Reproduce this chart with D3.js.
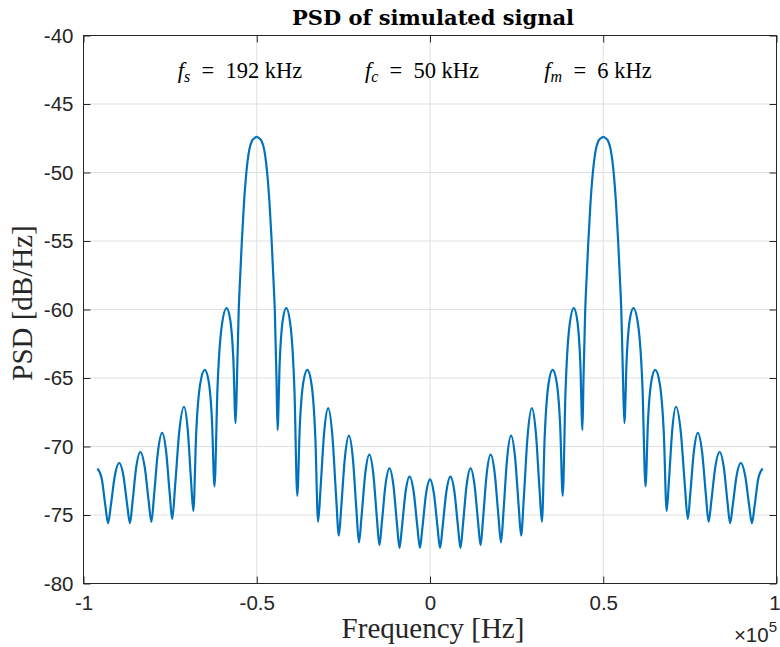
<!DOCTYPE html>
<html>
<head>
<meta charset="utf-8">
<script src="https://cdn.jsdelivr.net/npm/d3@7/dist/d3.min.js"></script>
<style>
  html, body { margin: 0; padding: 0; background: #ffffff; }
  svg { display: block; }
</style>
</head>
<body>
<svg id="chart" width="780" height="647"></svg>
<script>
// ---------- data ----------
const freqKHz = [
  -96.0, -94.76, -93.68, -92.9, -92.1, -90.98, -89.7, -88.46, -87.38, -86.6,
  -85.85, -84.8, -83.6, -82.32, -81.2, -80.4, -79.63, -78.54, -77.3, -76.14,
  -75.13, -74.4, -73.55, -72.36, -71.0, -69.92, -68.98, -68.3, -67.48, -66.32,
  -65.0, -63.88, -62.9, -62.2, -61.33, -60.1, -58.7, -57.66, -56.75, -56.1,
  -55.7, -55.2, -54.8, -54.3, -53.7, -53.0, -52.2, -51.4, -50.7, -50.0,
  -49.3, -48.6, -47.8, -47.0, -46.3, -45.7, -45.2, -44.8, -44.3, -44.0,
  -43.38, -42.5, -41.5, -40.22, -39.1, -38.3, -37.58, -36.56, -35.4, -34.16,
  -33.08, -32.3, -31.58, -30.56, -29.4, -28.16, -27.08, -26.3, -25.58, -24.56,
  -23.4, -22.24, -21.23, -20.5, -19.75, -18.7, -17.5, -16.34, -15.33, -14.6,
  -13.88, -12.86, -11.7, -10.54, -9.53, -8.8, -8.08, -7.06, -5.9, -4.7,
  -3.65, -2.9, -2.18, -1.16, 0.0, 1.16, 2.18, 2.9, 3.65, 4.7,
  5.9, 7.06, 8.08, 8.8, 9.53, 10.54, 11.7, 12.86, 13.88, 14.6,
  15.33, 16.34, 17.5, 18.7, 19.75, 20.5, 21.23, 22.24, 23.4, 24.56,
  25.58, 26.3, 27.08, 28.16, 29.4, 30.56, 31.58, 32.3, 33.08, 34.16,
  35.4, 36.56, 37.58, 38.3, 39.1, 40.22, 41.5, 42.5, 43.38, 44.0,
  44.3, 44.8, 45.2, 45.7, 46.3, 47.0, 47.8, 48.6, 49.3, 50.0,
  50.7, 51.4, 52.2, 53.0, 53.7, 54.3, 54.8, 55.2, 55.7, 56.1,
  56.75, 57.66, 58.7, 60.1, 61.33, 62.2, 62.9, 63.88, 65.0, 66.32,
  67.48, 68.3, 68.98, 69.92, 71.0, 72.36, 73.55, 74.4, 75.13, 76.14,
  77.3, 78.54, 79.63, 80.4, 81.2, 82.32, 83.6, 84.8, 85.85, 86.6,
  87.38, 88.46, 89.7, 90.98, 92.1, 92.9, 93.68, 94.76, 96.0
];
const psdDb = [
  -71.6, -72.32, -74.34, -75.6, -74.28, -72.17, -71.2, -72.17, -74.28, -75.6,
  -74.04, -71.54, -70.4, -71.52, -73.97, -75.5, -73.55, -70.43, -69.0, -70.39,
  -73.41, -75.3, -72.84, -68.9, -67.1, -68.77, -72.42, -74.7, -69.03, -65.43,
  -64.4, -65.25, -68.22, -72.9, -65.75, -61.2, -59.9, -60.74, -63.68, -68.3,
  -65.0, -60.0, -57.7, -55.0, -52.3, -50.0, -48.4, -47.7, -47.5, -47.4,
  -47.5, -47.7, -48.4, -50.0, -52.3, -55.0, -57.7, -60.0, -65.0, -68.8,
  -63.9, -60.79, -59.9, -61.27, -66.06, -73.6, -68.54, -65.32, -64.4, -65.51,
  -69.4, -75.5, -73.01, -69.03, -67.2, -69.25, -73.71, -76.5, -74.31, -70.81,
  -69.2, -70.92, -74.66, -77.0, -75.08, -72.01, -70.6, -72.05, -75.22, -77.2,
  -75.52, -72.83, -71.6, -72.88, -75.66, -77.4, -75.84, -73.34, -72.2, -73.34,
  -75.84, -77.4, -75.9, -73.5, -72.4, -73.5, -75.9, -77.4, -75.84, -73.34,
  -72.2, -73.34, -75.84, -77.4, -75.66, -72.88, -71.6, -72.83, -75.52, -77.2,
  -75.22, -72.05, -70.6, -72.01, -75.08, -77.0, -74.66, -70.92, -69.2, -70.81,
  -74.31, -76.5, -73.71, -69.25, -67.2, -69.03, -73.01, -75.5, -69.4, -65.51,
  -64.4, -65.32, -68.54, -73.6, -66.06, -61.27, -59.9, -60.79, -63.9, -68.8,
  -65.0, -60.0, -57.7, -55.0, -52.3, -50.0, -48.4, -47.7, -47.5, -47.4,
  -47.5, -47.7, -48.4, -50.0, -52.3, -55.0, -57.7, -60.0, -65.0, -68.3,
  -63.68, -60.74, -59.9, -61.2, -65.75, -72.9, -68.22, -65.25, -64.4, -65.43,
  -69.03, -74.7, -72.42, -68.77, -67.1, -68.9, -72.84, -75.3, -73.41, -70.39,
  -69.0, -70.43, -73.55, -75.5, -73.97, -71.52, -70.4, -71.54, -74.04, -75.6,
  -74.28, -72.17, -71.2, -72.17, -74.28, -75.6, -74.34, -72.32, -71.6
];
const xTickValues = [-100000, -50000, 0, 50000, 100000];
const xTickLabels = ["-1", "-0.5", "0", "0.5", "1"];
const yTickValues = [-80, -75, -70, -65, -60, -55, -50, -45, -40];
const yTickLabels = ["-80", "-75", "-70", "-65", "-60", "-55", "-50", "-45", "-40"];
const annotations = [
  { sym: "f", sub: "s", text: "\u2002=\u2002192 kHz", cx: 240 },
  { sym: "f", sub: "c", text: "\u2002=\u200250 kHz", cx: 422 },
  { sym: "f", sub: "m", text: "\u2002=\u20026 kHz", cx: 598 }
];
const titleText = "PSD of simulated signal";
const xLabelText = "Frequency [Hz]";
const yLabelText = "PSD [dB/Hz]";

// ---------- layout ----------
const L = 83.5, R = 776.5, T = 35.5, B = 583.5;
const axisColor = "#262626";
const gridColor = "#dfdfdf";
const lineColor = "#0072BD";
const tickFont = "'Liberation Sans', Arial, Helvetica, sans-serif";
const serif = "'Liberation Serif', 'Times New Roman', serif";

const svg = d3.select("#chart");
const x = d3.scaleLinear().domain([-100000, 100000]).range([L, R]);
const y = d3.scaleLinear().domain([-80, -40]).range([B, T]);

// grid
const grid = svg.append("g");
grid.selectAll("line.gx").data(xTickValues).join("line")
  .attr("x1", d => x(d)).attr("x2", d => x(d)).attr("y1", T).attr("y2", B)
  .attr("stroke", gridColor).attr("stroke-width", 1);
grid.selectAll("line.gy").data(yTickValues).join("line")
  .attr("x1", L).attr("x2", R).attr("y1", d => y(d)).attr("y2", d => y(d))
  .attr("stroke", gridColor).attr("stroke-width", 1);

// data line
const pts = freqKHz.map((f, i) => [f * 1000, psdDb[i]]);
const line = d3.line().x(d => x(d[0])).y(d => y(d[1])).curve(d3.curveMonotoneX);
svg.append("path").datum(pts).attr("d", line)
  .attr("fill", "none").attr("stroke", lineColor).attr("stroke-width", 2.2)
  .attr("stroke-linejoin", "round");

// axes
const fmtX = d => xTickLabels[xTickValues.indexOf(d)];
const fmtY = d => yTickLabels[yTickValues.indexOf(d)];
function styleAxis(g) {
  g.select(".domain").remove();
  g.selectAll(".tick line").attr("stroke", axisColor).attr("stroke-width", 1);
  g.selectAll(".tick text").attr("fill", axisColor)
    .attr("font-family", tickFont).attr("font-size", 20.5);
}
const xAxisG = svg.append("g").attr("transform", `translate(0,${B})`)
  .call(d3.axisBottom(x).tickValues(xTickValues).tickFormat(fmtX).tickSizeInner(-7).tickSizeOuter(0).tickPadding(12))
  .call(styleAxis);
xAxisG.selectAll(".tick text").filter(d => d === 100000).attr("dx", -2);
svg.append("g").attr("transform", `translate(0,${T})`)
  .call(d3.axisTop(x).tickValues(xTickValues).tickFormat("").tickSizeInner(-7).tickSizeOuter(0))
  .call(styleAxis);
svg.append("g").attr("transform", `translate(${L},0)`)
  .call(d3.axisLeft(y).tickValues(yTickValues).tickFormat(fmtY).tickSizeInner(-7).tickSizeOuter(0).tickPadding(10))
  .call(styleAxis);
svg.append("g").attr("transform", `translate(${R},0)`)
  .call(d3.axisRight(y).tickValues(yTickValues).tickFormat("").tickSizeInner(-7).tickSizeOuter(0))
  .call(styleAxis);

// box
svg.append("rect").attr("x", L).attr("y", T).attr("width", R - L).attr("height", B - T)
  .attr("fill", "none").attr("stroke", axisColor).attr("stroke-width", 1);

// title
svg.append("text").attr("x", 433).attr("y", 25).attr("text-anchor", "middle")
  .attr("font-family", "'DejaVu Serif', serif").attr("font-weight", "bold").attr("font-size", 21)
  .attr("fill", "#000").text(titleText);

// annotations
annotations.forEach(a => {
  const t = svg.append("text").attr("x", a.cx).attr("y", 78).attr("text-anchor", "middle")
    .attr("font-family", serif).attr("font-size", 22.5).attr("fill", "#000");
  t.append("tspan").attr("font-style", "italic").text(a.sym);
  t.append("tspan").attr("font-style", "italic").attr("font-size", 16).attr("dy", 4).text(a.sub);
  t.append("tspan").attr("dy", -4).text(a.text);
});

// axis labels
svg.append("text").attr("x", 433).attr("y", 638).attr("text-anchor", "middle")
  .attr("font-family", serif).attr("font-size", 29).attr("fill", axisColor).text(xLabelText);
svg.append("text").attr("transform", "translate(32,303) rotate(-90)").attr("text-anchor", "middle")
  .attr("font-family", serif).attr("font-size", 29).attr("fill", axisColor).text(yLabelText);

// x exponent
const ex = svg.append("text").attr("x", 777).attr("y", 642).attr("text-anchor", "end")
  .attr("font-family", tickFont).attr("font-size", 20.5).attr("fill", axisColor);
ex.append("tspan").text("\u00d710");
ex.append("tspan").attr("font-size", 15).attr("dy", -10).text("5");
</script>
</body>
</html>
